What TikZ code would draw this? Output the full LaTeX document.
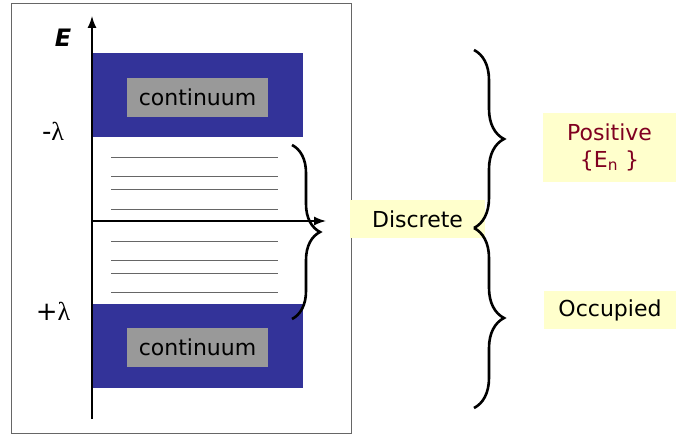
\documentclass[tikz,border=0pt]{standalone}
\usepackage{fontspec}
\setmainfont{DejaVu Sans}
\newfontfamily\lamfont{Liberation Serif}
\usetikzlibrary{positioning}
\usetikzlibrary{arrows.meta}
\usetikzlibrary{decorations.pathreplacing}
\usepackage{xcolor}

\definecolor{bandblue}{RGB}{51,51,153}
\definecolor{boxgray}{RGB}{153,153,153}
\definecolor{notefill}{RGB}{255,255,204}
\definecolor{posred}{RGB}{128,0,32}

\tikzset{
  band/.style={fill=bandblue},
  graybox/.style={fill=boxgray, inner sep=0pt, minimum width=141pt, minimum height=39pt, font=\fontsize{22}{26}\selectfont},
  note/.style={fill=notefill, inner sep=0pt, align=center, font=\fontsize{22}{27}\selectfont},
  levelline/.style={black!60, line width=0.8pt},
  axis/.style={black, line width=1.4pt, -{Latex[length=12pt,width=9pt]}},
  bracedeco/.style={decorate, decoration={brace, amplitude=#1}, line width=2.6pt},
  sidelabel/.style={font=\fontsize{26}{30}\selectfont},
}

\begin{document}
\begin{tikzpicture}[x=1pt, y=-1pt]

\useasboundingbox (0,0) rectangle (676,435);

\begin{scope}
{
% frame
\draw[black!60, line width=0.8pt] (11,3) rectangle (351,433);

% bands
\fill[band] (92,53) rectangle (303,137);
\fill[band] (92,304) rectangle (303,388);

\node[graybox] (upcont) at (197.5,97.5) {continuum};
\node[graybox] (lowcont) at (197.5,347) {continuum};

% level lines
\foreach \ly in {157,176,189,209,241,260,273,292}
  \draw[levelline] (111,\ly) -- (278,\ly);

% axes
\coordinate (axbottom) at (92,419);
\coordinate (axtop) at (92,16);
\coordinate (axleft) at (92,221);
\coordinate (axright) at (326,221);
\draw[axis] (axbottom) -- (axtop);
\draw[axis] (axleft) -- (axright);

\node[font=\fontsize{24}{28}\selectfont\bfseries\itshape] (elabel) at (63,38) {E};
\node[sidelabel] (minlam) at (53,131) {-{\lamfont λ}};
\node[sidelabel] (pluslam) at (53,311) {+{\lamfont λ}};

}
\end{scope}

% notes
\node[note, minimum width=135pt, minimum height=38pt] (discrete) at (417.5,219) {Discrete};
\node[note, minimum width=133pt, minimum height=69pt, text=posred] (positive) at (609.5,147.5) {Positive\\\{E\textsubscript{n} \}};
\node[note, minimum width=132pt, minimum height=38pt] (occupied) at (610,310) {Occupied};

% braces
\coordinate (smalltop) at (292,145);
\coordinate (smallbot) at (292,319);
\coordinate (bigtop) at (474,50);
\coordinate (bigmid) at (474,228);
\coordinate (bigbot) at (474,408);

\draw[bracedeco=28pt] (smalltop) -- (smallbot);
\draw[bracedeco=30pt] (bigtop) -- (bigmid);
\draw[bracedeco=30pt] (bigmid) -- (bigbot);

\end{tikzpicture}
\end{document}
